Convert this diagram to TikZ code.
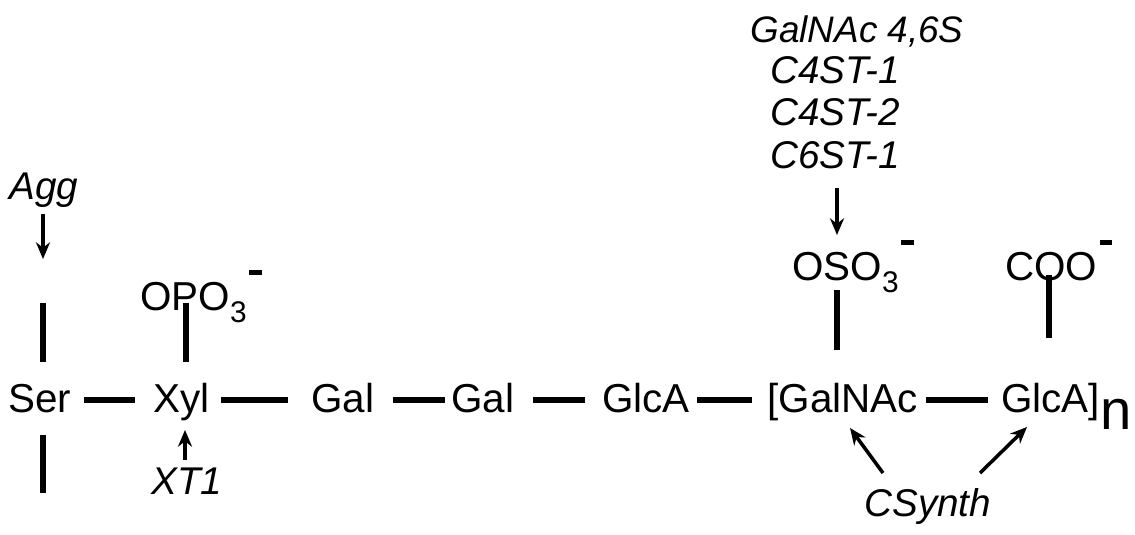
\documentclass[tikz,border=0pt]{standalone}
\usepackage{fontspec}
\setmainfont{Liberation Sans}
\usetikzlibrary{arrows.meta,calc}
\tikzset{
    %standard arrow tip
    >={Stealth[length=9.5pt,width=8pt]},
    sugar/.style={inner sep=0pt, anchor=base west, font=\fontsize{23}{27}\selectfont},
    enzyme/.style={inner sep=0pt, anchor=base west, font=\fontsize{22}{26}\selectfont\itshape},
    bond/.style={line width=3pt},
    act/.style={->, line width=2pt}
}
\newcommand\subthree{\raisebox{-7pt}{\fontsize{17}{17}\selectfont 3}}
\newcommand\charge{\hspace{1.5pt}\rule[20pt]{7pt}{2.5pt}}

\begin{document}
\begin{tikzpicture}[x=0.02cm,y=-0.02cm]
    \useasboundingbox (0,0) rectangle (1135,534);
    % backbone
    \node[sugar] (ser) at (8,412) {Ser};
    \node[sugar] (xyl) at (153,412) {Xyl};
    \node[sugar] (gal1) at (311,412) {Gal};
    \node[sugar] (gal2) at (451,412) {Gal};
    \node[sugar] (glca) at (602,412) {GlcA};
    \node[sugar] (galnac) at (767,412) {[GalNAc};
    \node[sugar] (glcan) at (1001,412) {GlcA]\raisebox{-10pt}{\fontsize{32}{32}\selectfont n}};
    \foreach \a/\b/\l/\r in {ser/xyl/12/18, xyl/gal1/11/23, gal1/gal2/18/6,
                             gal2/glca/18/17, glca/galnac/7/15, galnac/glcan/8/13}{
        \draw[bond] ($(\a.base east)+(\l,-12)$) -- ($(\b.base west)+(-\r,-12)$);
    }
    % side groups
    \node[sugar] (opo) at (140,310) {OPO\subthree\charge};
    \node[sugar] (oso) at (792,280) {OSO\subthree\charge};
    \node[sugar] (coo) at (1005,280) {COO\charge};
    \draw[bond] ($(xyl.base west)+(33,-50)$) -- ($(opo.base west)+(46,-7)$);
    \draw[bond] ($(galnac.base west)+(70,-62)$) -- ($(oso.base west)+(45,10)$);
    \draw[bond] ($(glcan.base west)+(48,-74)$) -- ($(coo.base west)+(44,-5)$);
    % chain continues
    \draw[bond] ($(ser.base west)+(35,-50)$) -- ++(0,-59);
    \draw[bond] ($(ser.base west)+(35,23)$) -- ++(0,58);
    % enzymes
    \node[enzyme] (agg) at (9,199) {Agg};
    \node[enzyme] (xt) at (151,494) {XT1};
    \node[enzyme] (csynth) at (864,516) {CSynth};
    \node[enzyme, font=\fontsize{21}{25}\selectfont\itshape] (st1) at (750,42) {GalNAc 4,6S};
    \foreach \t/\y [count=\i from 2] in {C4ST-1/83, C4ST-2/125, C6ST-1/168}{
        \node[enzyme] (st\i) at (770,\y) {\t};
    }
    \draw[act] ($(agg.base west)+(34,15)$) -- ++(0,45);
    \draw[act] ($(xt.base west)+(34,-34)$) -- ($(xyl.base west)+(32,18)$);
    \draw[act] ($(st4.base west)+(67,20)$) -- ++(0,47);
    \draw[act] ($(csynth.base west)+(19,-43)$) -- ($(galnac.base west)+(83,16)$);
    \draw[act] ($(csynth.base west)+(116,-43)$) -- ($(glcan.base west)+(26,15)$);
\end{tikzpicture}
\end{document}
